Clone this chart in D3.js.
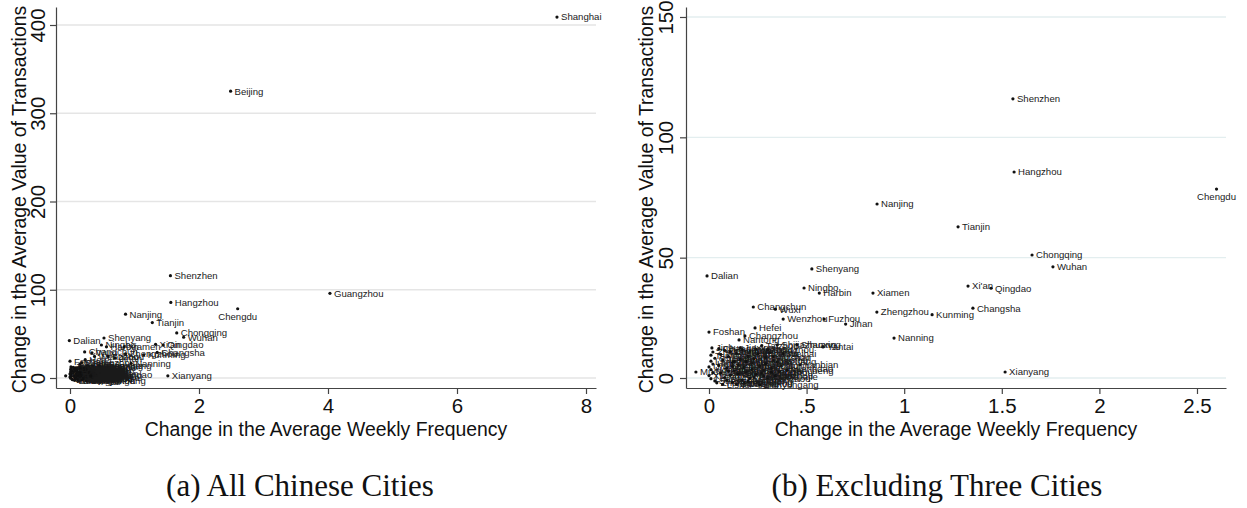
<!DOCTYPE html>
<html>
<head>
<meta charset="utf-8">
<script src="https://cdn.jsdelivr.net/npm/d3@7"></script>
<style>
body { margin: 0; background: #fff; }
svg { display: block; }
</style>
</head>
<body>
<svg id="chart" width="1247" height="508"></svg>
<script>
// city level changes
var cities = [
    'Shanghai', 'Beijing', 'Guangzhou', 'Shenzhen', 'Hangzhou', 'Chengdu', 'Nanjing', 'Tianjin',
    'Chongqing', 'Wuhan', 'Shenyang', 'Dalian', "Xi'an", 'Qingdao', 'Ningbo', 'Harbin',
    'Xiamen', 'Changchun', 'Wuxi', 'Changsha', 'Zhengzhou', 'Kunming', 'Wenzhou', 'Fuzhou',
    'Jinan', 'Hefei', 'Foshan', 'Changzhou', 'Nanning', 'Nantong', 'Yantai', 'Jinhua',
    'Yanbian', 'Xianyang', 'Mudanjiang', 'Zhangjiajie',
    'Zhuhai', 'Taiyuan', 'Guiyang', 'Lanzhou', 'Haikou', 'Urumqi', 'Hohhot', 'Yinchuan',
    'Xining', 'Lhasa', 'Sanya', 'Dongguan', 'Zhongshan', 'Huizhou', 'Jiangmen', 'Zhanjiang',
    'Shaoguan', 'Meizhou', 'Qingyuan', 'Zhaoqing', 'Maoming', 'Yulin', 'Shantou', 'Quanzhou',
    'Zhangzhou', 'Putian', 'Ganzhou', 'Jiujiang', 'Nanchang', 'Yichang', 'Xiangyang', 'Luoyang',
    'Kaifeng', 'Nanyang', 'Xinxiang', 'Baoding', 'Tangshan', 'Handan', 'Langfang', 'Qinhuangdao',
    'Zhangjiakou', 'Datong', 'Baotou', 'Ordos', 'Anshan', 'Jilin', 'Daqing', 'Weifang',
    'Zibo', 'Linyi', 'Jining', 'Weihai', 'Suzhou', 'Shijiazhuang', 'Taizhou', 'Shaoxing',
    'Xuzhou', 'Yangzhou', 'Zhenjiang', 'Yancheng', 'Lianyungang', 'Jiaxing', 'Lishui', 'Wuhu',
    'Bengbu', 'Liuzhou', 'Guilin', 'Zunyi', 'Mianyang', 'Yibin', 'Deyang', 'Dali',
    'Lijiang', 'Baoji', 'Yueyang', 'Hengyang', 'Zhuzhou', 'Changde'
];
var freqChange = [
    7.55, 2.49, 4.03, 1.557, 1.563, 2.60, 0.861, 1.276,
    1.655, 1.762, 0.527, -0.01, 1.327, 1.445, 0.487, 0.565,
    0.84, 0.227, 0.34, 1.352, 0.86, 1.143, 0.38, 0.59,
    0.70, 0.236, 0.0, 0.184, 0.948, 0.154, 0.584, 0.015,
    0.466, 1.517, -0.067, 0.30,
    0.02, 0.01, 0.03, 0.01, 0.02, 0.0, 0.01, 0.02,
    0.0, 0.01, 0.03, 0.08, 0.06, 0.10, 0.07, 0.12,
    0.05, 0.09, 0.13, 0.06, 0.11, 0.08, 0.28, 0.14,
    0.17, 0.15, 0.30, 0.18, 0.21, 0.16, 0.19, 0.22,
    0.12, 0.24, 0.20, 0.26, 0.29, 0.23, 0.17, 0.32,
    0.14, 0.25, 0.33, 0.27, 0.09, 0.31, 0.18, 0.35,
    0.36, 0.22, 0.13, 0.38, 0.33, 0.35, 0.27, 0.45,
    0.24, 0.30, 0.04, 0.40, 0.26, 0.16, 0.07, 0.28,
    0.20, 0.34, 0.37, 0.10, 0.19, 0.23, 0.11, 0.29,
    0.21, 0.15, 0.25, 0.12, 0.32, 0.05
];
var valueChange = [
    409, 325, 96, 116, 85.6, 78.5, 72.3, 62.8,
    51.1, 46.2, 45.3, 42.4, 38.2, 37.3, 37.4, 35.3,
    35.3, 29.5, 28.6, 29.0, 27.4, 26.3, 24.5, 24.5,
    22.4, 20.8, 19.1, 17.5, 16.6, 15.8, 12.9, 12.5,
    5.4, 2.5, 2.5, 0.5,
    10.8, 9.5, 8.2, 7.0, 5.8, 4.6, 3.5, 2.2,
    1.0, -0.3, -1.2, 11.5, 9.8, 8.9, 7.5, 6.4,
    5.2, 4.1, 3.0, 2.1, 1.2, 0.2, 3.3, 10.2,
    -0.8, 5.6, -0.3, 4.4, 11.2, 7.8, 2.6, 6.2,
    -1.8, 1.5, 9.0, 5.0, 8.6, 0.4, 11.8, 4.0,
    -2.5, -1.5, 7.2, 2.0, -0.9, 10.5, -2.2, 6.6,
    2.8, 3.6, 6.9, 10.0, 8.8, 13.8, 13.5, 13.9,
    12.0, 11.8, -2.0, 3.2, -2.8, 12.5, -2.6, 0.8,
    -1.2, 1.0, 5.0, 2.9, 6.9, 8.0, 11.0, 6.0,
    -0.1, 1.8, 10.0, 4.8, 2.4, 12.2
];
var excluded = ['Shanghai', 'Beijing', 'Guangzhou'];
var labelBelow = ['Chengdu'];

var leftXTicks = [0, 2, 4, 6, 8];
var leftYTicks = [0, 100, 200, 300, 400];
var rightXTicks = [0, 0.5, 1, 1.5, 2, 2.5];
var rightYTicks = [0, 50, 100, 150];

var xTitle = 'Change in the Average Weekly Frequency';
var yTitle = 'Change in the Average Value of Transactions';
var captions = ['(a) All Chinese Cities', '(b) Excluding Three Cities'];

var sans = "'Liberation Sans', Arial, Helvetica, sans-serif";
var serif = "'Liberation Serif', 'Times New Roman', serif";

var points = cities.map(function(name, i) {
    return {name: name, x: freqChange[i], y: valueChange[i]};
});

var svg = d3.select('#chart');

drawPanel({
    data: points,
    left: 56, right: 596, top: 7, bottom: 388,
    xDomain: [-0.217, 8.155], yDomain: [-11.33, 420.4],
    xTicks: leftXTicks, yTicks: leftYTicks,
    grid: '#e5e5e5', tickLabelX: 11, titleX: 30,
    caption: captions[0], captionX: 300
});

drawPanel({
    data: points.filter(function(d) { return excluded.indexOf(d.name) < 0; }),
    left: 686, right: 1226, top: 7, bottom: 388,
    xDomain: [-0.1178, 2.6486], yDomain: [-4.155, 154.15],
    xTicks: rightXTicks, yTicks: rightYTicks,
    grid: '#e3eeef', tickLabelX: 13, titleX: 33,
    caption: captions[1], captionX: 937
});

function drawPanel(p) {
    var x = d3.scaleLinear().domain(p.xDomain).range([p.left, p.right]);
    var y = d3.scaleLinear().domain(p.yDomain).range([p.bottom, p.top]);
    var g = svg.append('g');

    // horizontal grid at the y ticks
    g.append('g')
    .selectAll('line')
    .data(p.yTicks)
    .enter()
    .append('line')
    .attr('x1', p.left)
    .attr('x2', p.right)
    .attr('y1', function(d) { return y(d); })
    .attr('y2', function(d) { return y(d); })
    .attr('stroke', p.grid)
    .attr('stroke-width', 1.3);

    var xAxis = g.append('g')
    .attr('transform', 'translate(0,' + p.bottom + ')')
    .call(d3.axisBottom(x)
        .tickValues(p.xTicks)
        .tickSizeInner(6)
        .tickSizeOuter(0)
        .tickFormat(stataFormat));

    var yAxis = g.append('g')
    .attr('transform', 'translate(' + p.left + ',0)')
    .call(d3.axisLeft(y)
        .tickValues(p.yTicks)
        .tickSizeInner(6)
        .tickSizeOuter(0)
        .tickFormat(stataFormat));

    [xAxis, yAxis].forEach(function(a) {
        a.select('.domain').attr('stroke', '#444').attr('stroke-width', 1.2);
        a.selectAll('.tick line').attr('stroke', '#444').attr('stroke-width', 1.2);
        a.selectAll('.tick text')
        .attr('fill', '#111')
        .style('font-family', sans)
        .style('font-size', '20.5px');
    });

    xAxis.selectAll('.tick text')
    .attr('y', 25)
    .attr('dy', null);

    // stata style: y labels run up the axis
    yAxis.selectAll('.tick text')
    .attr('x', 0)
    .attr('y', -p.tickLabelX)
    .attr('dy', null)
    .attr('text-anchor', 'middle')
    .attr('transform', 'rotate(-90)');

    g.append('text')
    .attr('x', (p.left + p.right) / 2)
    .attr('y', 436)
    .attr('text-anchor', 'middle')
    .style('font-family', sans)
    .style('font-size', '19.4px')
    .attr('fill', '#111')
    .text(xTitle);

    var ty = (p.top + p.bottom) / 2 + 2;
    g.append('text')
    .attr('transform', 'translate(' + (p.left - p.titleX) + ',' + ty + ') rotate(-90)')
    .attr('text-anchor', 'middle')
    .style('font-family', sans)
    .style('font-size', '19.4px')
    .attr('fill', '#111')
    .text(yTitle);

    var marks = g.append('g')
    .selectAll('g')
    .data(p.data)
    .enter()
    .append('g')
    .attr('transform', function(d) {
        return 'translate(' + x(d.x) + ',' + y(d.y) + ')';
    });

    marks.append('circle')
    .attr('r', 1.6)
    .attr('fill', '#111');

    marks.append('text')
    .style('font-family', sans)
    .style('font-size', '9.6px')
    .attr('fill', '#1a1a1a')
    .attr('x', function(d) { return isBelow(d) ? 0 : 4; })
    .attr('y', function(d) { return isBelow(d) ? 11 : 0; })
    .attr('dy', function(d) { return isBelow(d) ? null : '0.35em'; })
    .attr('text-anchor', function(d) { return isBelow(d) ? 'middle' : 'start'; })
    .text(getProp('name'));

    svg.append('text')
    .attr('x', p.captionX)
    .attr('y', 496)
    .attr('text-anchor', 'middle')
    .style('font-family', serif)
    .style('font-size', '31px')
    .attr('fill', '#111')
    .text(p.caption);
}

function isBelow(d) {
    return labelBelow.indexOf(d.name) >= 0;
}

function stataFormat(v) {
    var s = String(v);
    return s.indexOf('0.') === 0 ? s.slice(1) : s;
}

function getProp(property) {
    return function(obj) {
        return obj[property];
    };
}
</script>
</body>
</html>
